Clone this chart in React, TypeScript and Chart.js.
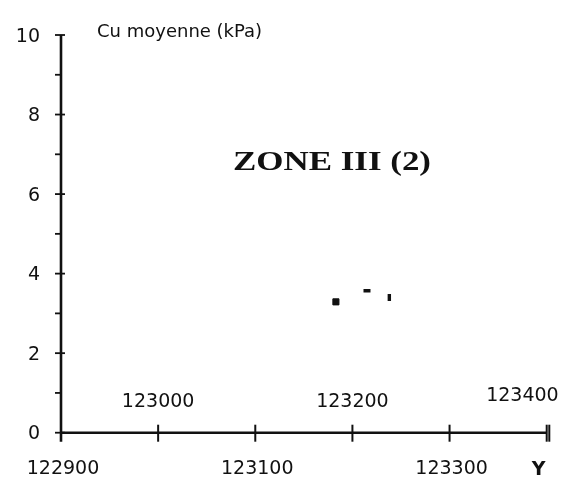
import React, { useEffect, useRef } from "react";
import { Chart, registerables } from "chart.js";

Chart.register(...registerables);

// ---- data ----
const pointX = [123183, 123215, 123238];
const pointY = [3.29, 3.57, 3.4];
const pointStyles = ["rect", "line", "line"];
const pointRotations = [0, 0, 90];

const xMin = 122900;
const xMax = 123400;
const xTickValues = [122900, 123000, 123100, 123200, 123300, 123400];
const xLabelsBelow = ["122900", "123100", "123300"];
const xLabelsAbove = ["123000", "123200", "123400"];

const yMin = 0;
const yMax = 10;
const yMajorTicks = [0, 2, 4, 6, 8, 10];
const yMinorTicks = [1, 3, 5, 7, 9];

const yTitle = "Cu moyenne (kPa)";
const xTitle = "Y";
const zoneLabel = "ZONE III (2)";

const INK = "#111";

const axesPlugin = {
  id: "paperAxes",
  afterDraw(chart: any) {
    const ctx = chart.ctx as CanvasRenderingContext2D;
    const xs = chart.scales.x;
    const ys = chart.scales.y;
    const x0 = xs.getPixelForValue(xMin);
    const x1 = xs.getPixelForValue(xMax);
    const y0 = ys.getPixelForValue(yMin);
    const y1 = ys.getPixelForValue(yMax);

    ctx.save();
    ctx.strokeStyle = INK;
    ctx.fillStyle = INK;
    ctx.lineCap = "butt";

    // y axis line
    ctx.lineWidth = 2.6;
    ctx.beginPath();
    ctx.moveTo(x0, y1);
    ctx.lineTo(x0, y0 + 9);
    ctx.stroke();

    // x axis line
    ctx.beginPath();
    ctx.moveTo(x0, y0);
    ctx.lineTo(x1, y0);
    ctx.stroke();

    // y ticks
    ctx.lineWidth = 1.8;
    yMajorTicks.forEach((v) => {
      const py = ys.getPixelForValue(v);
      ctx.beginPath();
      ctx.moveTo(x0 - 6, py);
      ctx.lineTo(x0 + 4, py);
      ctx.stroke();
    });
    yMinorTicks.forEach((v) => {
      const py = ys.getPixelForValue(v);
      ctx.beginPath();
      ctx.moveTo(x0 - 6, py);
      ctx.lineTo(x0, py);
      ctx.stroke();
    });

    // x ticks
    ctx.lineWidth = 2;
    xTickValues.forEach((v, i) => {
      const px = xs.getPixelForValue(v);
      if (i === 0) return;
      ctx.beginPath();
      ctx.moveTo(px, y0 - 8);
      ctx.lineTo(px, y0 + 9);
      ctx.stroke();
      if (i === xTickValues.length - 1) {
        ctx.beginPath();
        ctx.moveTo(px + 2.6, y0 - 8);
        ctx.lineTo(px + 2.6, y0 + 9);
        ctx.stroke();
      }
    });

    // y labels
    ctx.font = "19px 'DejaVu Sans'";
    ctx.textAlign = "right";
    ctx.textBaseline = "alphabetic";
    yMajorTicks.forEach((v) => {
      const py = ys.getPixelForValue(v);
      ctx.fillText(String(v), x0 - 21, py + 6.5);
    });

    // x labels: alternate below / above the axis
    ctx.textAlign = "center";
    xTickValues.forEach((v, i) => {
      const px = xs.getPixelForValue(v);
      const txt = String(v);
      if (xLabelsBelow.includes(txt)) {
        ctx.textAlign = "center";
        ctx.fillText(txt, px + 2, y0 + 41);
      } else if (xLabelsAbove.includes(txt)) {
        if (i === xTickValues.length - 1) {
          ctx.textAlign = "right";
          ctx.fillText(txt, px + 12, y0 - 32);
        } else {
          ctx.textAlign = "center";
          ctx.fillText(txt, px, y0 - 26);
        }
      }
    });

    // axis titles
    ctx.textAlign = "left";
    ctx.font = "18px 'DejaVu Sans'";
    ctx.fillText(yTitle, x0 + 36, y1 + 1.5);

    ctx.font = "bold 19px 'DejaVu Sans'";
    ctx.fillText(xTitle, x1 - 15, y0 + 42);

    // zone label (wide bold serif)
    ctx.font = "bold 27px 'Liberation Serif'";
    const natural = ctx.measureText(zoneLabel).width;
    const sx = 198 / natural;
    ctx.save();
    ctx.translate(233, 170);
    ctx.scale(sx, 1);
    ctx.fillText(zoneLabel, 0, 0);
    ctx.restore();

    ctx.restore();
  },
};

export default function App() {
  const canvasRef = useRef<HTMLCanvasElement | null>(null);

  useEffect(() => {
    const canvas = canvasRef.current;
    if (!canvas) return;
    const chart = new Chart(canvas, {
      type: "scatter",
      data: {
        datasets: [
          {
            data: pointX.map((x, i) => ({ x, y: pointY[i] })),
            pointStyle: pointStyles as any,
            rotation: pointRotations,
            radius: [4.3, 3.5, 3.5],
            borderWidth: [1, 3.4, 3.4],
            backgroundColor: INK,
            borderColor: INK,
          },
        ],
      },
      plugins: [axesPlugin],
      options: {
        responsive: false,
        animation: false,
        events: [],
        layout: {
          padding: { left: 61, top: 35, right: 16.3, bottom: 44.3 },
        },
        plugins: {
          legend: { display: false },
          tooltip: { enabled: false },
        },
        scales: {
          x: { type: "linear", display: false, min: xMin, max: xMax },
          y: { type: "linear", display: false, min: yMin, max: yMax },
        },
      },
    });
    return () => chart.destroy();
  }, []);

  return (
    <div style={{ position: "absolute", left: 0, top: 0, width: 563, height: 477, background: "#fff" }}>
      <canvas ref={canvasRef} width={563} height={477} />
    </div>
  );
}
